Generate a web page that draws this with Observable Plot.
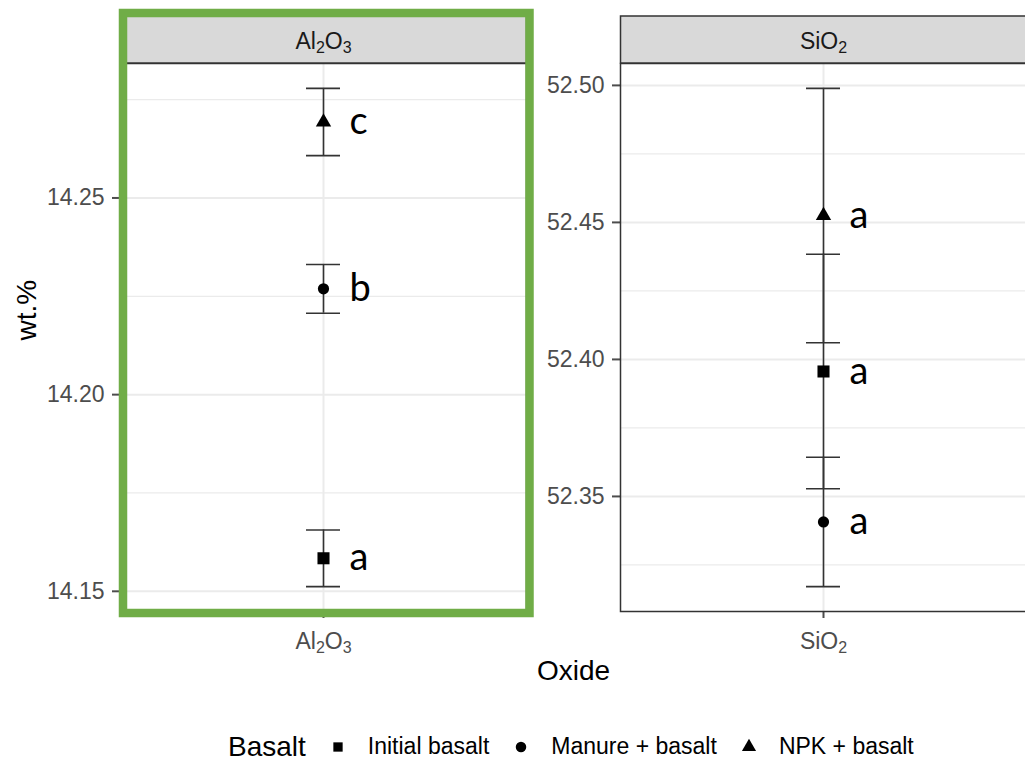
<!DOCTYPE html>
<html>
<head>
<meta charset="utf-8">
<script src="https://cdn.jsdelivr.net/npm/d3@7"></script>
<script src="https://cdn.jsdelivr.net/npm/@observablehq/plot@0.6"></script>
<style>
  html, body { margin: 0; padding: 0; background: #fff; }
  #chart { position: relative; width: 1025px; height: 762px; overflow: hidden; background: #fff;
           font-family: "Liberation Sans", Arial, sans-serif; }
  #chart > svg { position: absolute; top: 0; }
  #xtitle { position: absolute; top: 654.7px; left: 573.5px; transform: translateX(-50%);
            font-size: 28px; color: #000; white-space: nowrap; line-height: normal; }
  #legendrow { position: absolute; left: 228px; top: 730px; height: 33px; display: flex;
               align-items: center; white-space: nowrap; }
  #legendrow .ltitle { font-size: 28px; color: #000; margin-right: 25px; line-height: normal; }
  #legendrow .leg-swatches { margin: 0 !important; font-size: 23px !important;
               font-family: "Liberation Sans", Arial, sans-serif !important; color: #000 !important;
               min-height: 0 !important; flex-wrap: nowrap !important; }
  #legendrow .leg-swatch { margin-right: 25px !important; }
  #legendrow .leg-swatch > svg { margin-right: 23px !important; }
</style>
</head>
<body>
<div id="chart"></div>
<script>
// ---------------- data ----------------
const oxides = ["Al2O3", "SiO2"];
const treatments = ["Initial basalt", "Manure + basalt", "NPK + basalt"];
const shapes = ["square", "circle", "triangle"];
const al2o3Mean = [14.1584, 14.2269, 14.2693];
const al2o3Err  = [0.0072, 0.0062, 0.00855];
const al2o3Letters = ["a", "b", "c"];
const sio2Mean = [52.3956, 52.3407, 52.4525];
const sio2Err  = [0.0428, 0.0236, 0.0464];
const sio2Letters = ["a", "a", "a"];
const al2o3MajorTicks = [14.15, 14.20, 14.25];
const al2o3MinorTicks = [14.175, 14.225, 14.275];
const sio2MajorTicks = [52.35, 52.40, 52.45, 52.50];
const sio2MinorTicks = [52.325, 52.375, 52.425, 52.475];
const yTitle = "wt.%";
const xTitle = "Oxide";
const legendTitle = "Basalt";

// ---------------- styles ----------------
const symbolR = {square: 6.8, circle: 5.6, triangle: 5.7};
const svgH = 700;

function rowsFor(oxide, means, errs, letters) {
  return treatments.map((t, i) => ({oxide, treatment: t, shape: shapes[i], mean: means[i], err: errs[i], letter: letters[i]}));
}
const alRows = rowsFor(oxides[0], al2o3Mean, al2o3Err, al2o3Letters);
const siRows = rowsFor(oxides[1], sio2Mean, sio2Err, sio2Letters);

function makePanel({rows, oxide, major, minor, svgLeft, width, marginLeft, marginRight, green, ylab}) {
  const lo = d3.min(rows, d => d.mean - d.err), hi = d3.max(rows, d => d.mean + d.err);
  const pad = (hi - lo) * 0.05;
  const marks = [
    Plot.gridY(minor, {stroke: "#ebebeb", strokeOpacity: 1, strokeWidth: 1.2}),
    Plot.gridY(major, {stroke: "#ebebeb", strokeOpacity: 1, strokeWidth: 2}),
    Plot.gridX([oxide], {stroke: "#ebebeb", strokeOpacity: 1, strokeWidth: 2}),
    Plot.ruleX(rows, {x: "oxide", y1: d => d.mean - d.err, y2: d => d.mean + d.err, stroke: "#333", strokeWidth: 1.6}),
    Plot.tickY(rows, {x: "oxide", y: d => d.mean - d.err, stroke: "#333", strokeWidth: 1.6}),
    Plot.tickY(rows, {x: "oxide", y: d => d.mean + d.err, stroke: "#333", strokeWidth: 1.6}),
    ...shapes.map(s => Plot.dot(rows.filter(d => d.shape === s), {x: "oxide", y: "mean", symbol: s, r: symbolR[s], fill: "black", stroke: "none"})),
    Plot.text(rows, {x: "oxide", y: "mean", text: "letter", dx: 26, textAnchor: "start", lineAnchor: "middle", fontSize: 38, fontFamily: "Lato", fill: "black"}),
    Plot.axisY({ticks: major, tickFormat: d3.format(".2f"), tickSize: 8, tickPadding: 8, strokeWidth: 2, color: "#4d4d4d", label: null, fontSize: 23}),
    Plot.axisX({tickSize: 7, tickPadding: 14, strokeWidth: 2, color: "#4d4d4d", label: null, fontSize: 23}),
    Plot.frame({stroke: "#333", strokeWidth: 1.5}),
    Plot.frame({fill: "#d9d9d9", stroke: "#333", strokeWidth: 1.5, insetTop: -47.5, insetBottom: 548.5}),
    Plot.text([oxide], {frameAnchor: "top", lineAnchor: "middle", dy: -22, text: d => d, fontSize: 23, fill: "#1a1a1a"})
  ];
  if (ylab) marks.push(Plot.text([ylab], {frameAnchor: "left", lineAnchor: "middle", rotate: -90, dx: -93, dy: 3, text: d => d, fontSize: 28, fill: "#000"}));
  if (green) marks.push(Plot.frame({stroke: "#70ad47", strokeWidth: 8.5, fill: "none", insetLeft: 2.5, insetRight: -3, insetTop: -50.5, insetBottom: -1.5}));
  const svg = Plot.plot({
    width, height: svgH,
    marginLeft, marginRight, marginTop: 63, marginBottom: svgH - 611,
    x: {type: "band", domain: [oxide], paddingInner: 0.8455, paddingOuter: 0.8455},
    y: {domain: [lo - pad, hi + pad]},
    style: {background: "transparent", fontFamily: "Liberation Sans, Arial, sans-serif", fontSize: "23px", color: "#4d4d4d", overflow: "visible"},
    marks
  });
  svg.style.left = svgLeft + "px";
  return svg;
}

// turn chemical formulas into subscripted text
function subscriptify(root) {
  const ns = "http://www.w3.org/2000/svg";
  root.querySelectorAll("text").forEach(t => {
    const s = t.textContent;
    if (!/^[A-Z][A-Za-z0-9]*\d[A-Za-z0-9]*$/.test(s) || t.children.length) return;
    const parts = s.match(/[A-Za-z]+|\d+/g);
    t.textContent = "";
    let shifted = false;
    for (const p of parts) {
      const ts = document.createElementNS(ns, "tspan");
      ts.textContent = p;
      if (/\d/.test(p)) { ts.setAttribute("font-size", "16"); ts.setAttribute("dy", "4"); shifted = true; }
      else if (shifted) { ts.setAttribute("dy", "-4"); shifted = false; }
      t.appendChild(ts);
    }
  });
}

const chart = document.getElementById("chart");
const left = makePanel({rows: alRows, oxide: oxides[0], major: al2o3MajorTicks, minor: al2o3MinorTicks,
  svgLeft: 0, width: 540, marginLeft: 120, marginRight: 14, green: true, ylab: yTitle});
const right = makePanel({rows: siRows, oxide: oxides[1], major: sio2MajorTicks, minor: sio2MinorTicks,
  svgLeft: 534, width: 506, marginLeft: 86, marginRight: 14, green: false, ylab: null});
subscriptify(left); subscriptify(right);
chart.appendChild(right);
chart.appendChild(left);

const xt = document.createElement("div");
xt.id = "xtitle"; xt.textContent = xTitle;
chart.appendChild(xt);

const row = document.createElement("div");
row.id = "legendrow";
const lt = document.createElement("span");
lt.className = "ltitle"; lt.textContent = legendTitle;
row.appendChild(lt);
row.appendChild(Plot.legend({symbol: {domain: treatments, range: shapes}, fill: "black", r: 6, swatchSize: 14, className: "leg"}));
chart.appendChild(row);
</script>
</body>
</html>
